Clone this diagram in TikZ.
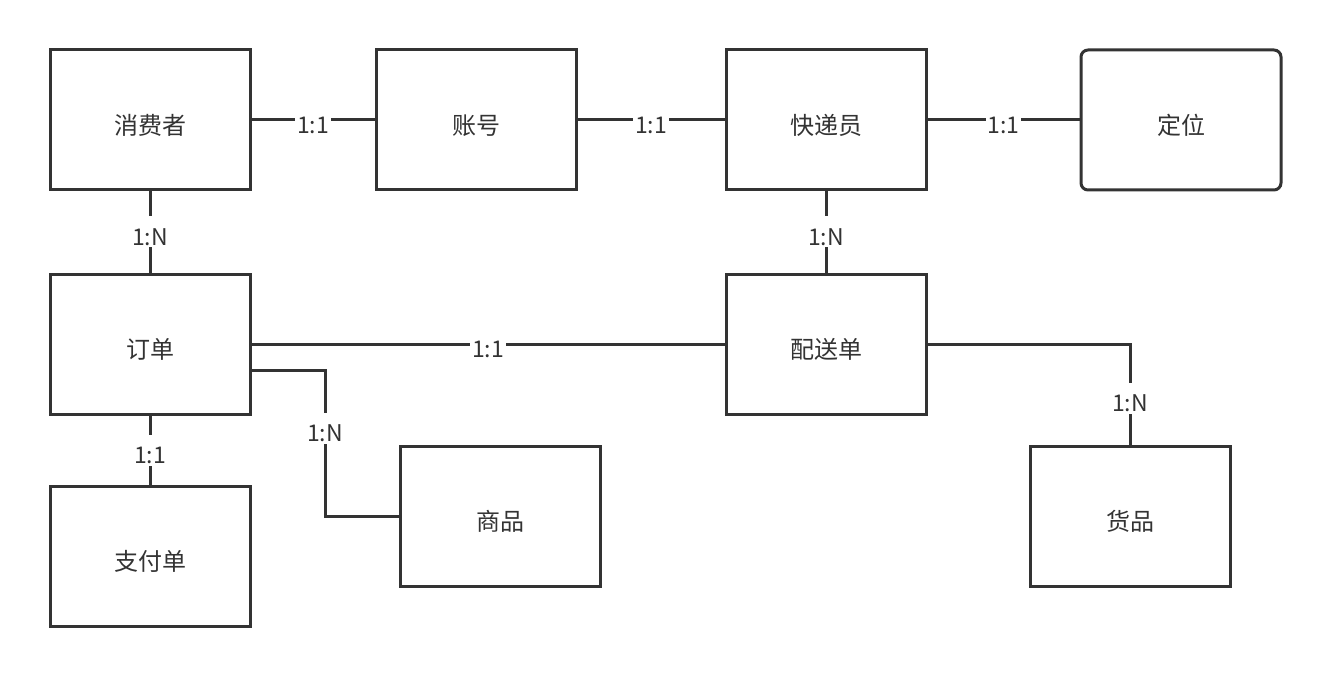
\documentclass[tikz,border=0pt]{standalone}
\usepackage{fontspec}
\setmainfont{Noto Sans CJK SC}
\definecolor{ink}{HTML}{333333}
\begin{document}
\begin{tikzpicture}[x=1pt,y=-1pt,
  ent/.style={draw=ink,line width=3pt,minimum width=200pt,minimum height=140pt,inner sep=0pt,
    text height=29pt,text depth=0.6pt,
    font=\fontsize{24}{28}\selectfont,text=ink,fill=white},
  rent/.style={ent,rounded corners=7pt},
  lab/.style={fill=white,inner sep=2pt,text height=27pt,text depth=0pt,
    font=\fontsize{23}{26}\selectfont,text=ink},
  con/.style={draw=ink,line width=3pt}]
\useasboundingbox (0,0) rectangle (1332,676);
\node[ent] (xf) at (150,120) {消费者};
\node[ent] (zh) at (476,120) {账号};
\node[ent] (kd) at (826,120) {快递员};
\node[rent] (dw) at (1181,120) {定位};
\node[ent] (dd) at (150,344) {订单};
\node[ent] (ps) at (826,344) {配送单};
\node[ent] (zf) at (150,556) {支付单};
\node[ent] (sp) at (500,516) {商品};
\node[ent] (hp) at (1130,516) {货品};
\coordinate (ddr) at ([yshift=-26pt]dd.east);
\coordinate (k1) at (325,370);
\coordinate (k2) at (325,516);
\coordinate (k3) at (1130,344);
\path[con] (xf) -- node[lab]{1:1} (zh);
\path[con] (zh) -- node[lab]{1:1} (kd);
\path[con] (kd) -- node[lab]{1:1} (dw);
\path[con] (xf) -- node[lab]{1:N} (dd);
\path[con] (kd) -- node[lab]{1:N} (ps);
\path[con] (dd) -- node[lab]{1:1} (zf);
\path[con] (dd) -- node[lab]{1:1} (ps);
\path[con] (ddr) -- (k1) -- node[lab,pos=0.4]{1:N} (k2) -- (sp.west);
\path[con] (ps.east) -- (k3) -- node[lab,pos=0.54]{1:N} (hp.north);
\end{tikzpicture}
\end{document}
